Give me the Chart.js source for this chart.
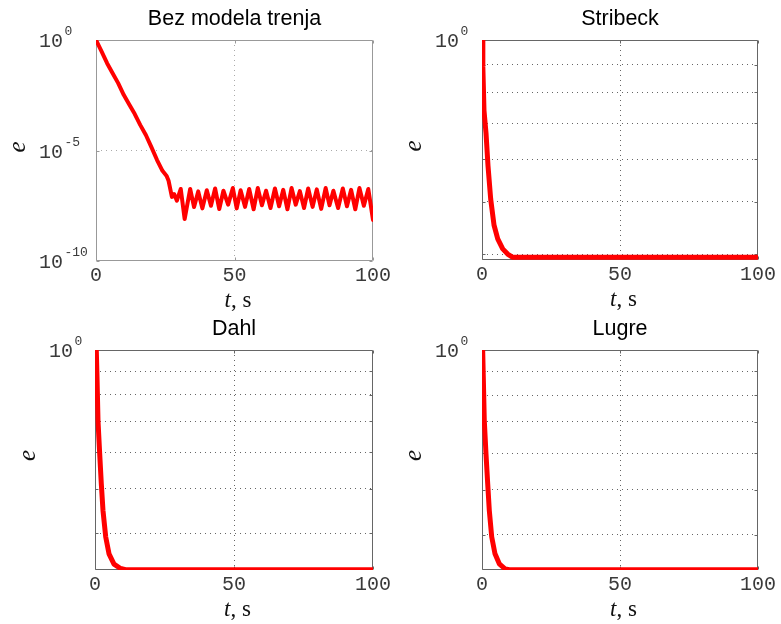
<!DOCTYPE html>
<html><head><meta charset="utf-8">
<script src="https://cdn.jsdelivr.net/npm/chart.js@4/dist/chart.umd.min.js"></script>
<style>
html,body{margin:0;padding:0;background:#fff;}
#wrap{position:relative;width:781px;height:624px;background:#fff;}
canvas{position:absolute;left:0;top:0;}
</style></head><body>
<div id="wrap">
<canvas id="c0" width="781" height="624"></canvas>
<canvas id="c1" width="781" height="624"></canvas>
<canvas id="c2" width="781" height="624"></canvas>
<canvas id="c3" width="781" height="624"></canvas>
</div>
<script>
// ---- data ----
const titles = ['Bez modela trenja', 'Stribeck', 'Dahl', 'Lugre'];
const xTicks = [0, 50, 100];

// Bez modela trenja (t in s, e)
const tlT = [0, 2, 4, 6, 8, 10, 12, 14, 16, 18, 20, 22, 24, 25.5, 26.2, 27.4, 28.2, 29.2,
  30.6, 32.0, 34.0, 35.4, 36.9, 38.4, 40.0, 41.5, 43.0, 44.5, 46.0, 47.7, 49.4, 50.8, 52.2, 53.8,
  55.3, 56.9, 58.4, 59.9, 61.4, 63.0, 64.6, 66.1, 67.6, 69.1, 70.6, 72.1, 73.6, 75.1, 76.6, 78.2,
  79.7, 81.3, 82.9, 84.3, 85.7, 87.4, 89.1, 90.6, 92.1, 93.6, 95.1, 96.7, 98.3, 100];
const tlE = [1, 0.302, 0.0891, 0.0316, 0.0112, 3.31e-3, 1.20e-3, 4.47e-4, 1.41e-4, 5.01e-5, 1.41e-5, 3.80e-6, 1.20e-6, 7.08e-7, 4.27e-7, 7.94e-8, 1.07e-7, 5.37e-8,
  1.82e-7, 7.94e-9, 1.82e-7, 2.75e-8, 1.41e-7, 2.40e-8, 1.58e-7, 3.16e-8, 1.91e-7, 2.24e-8, 1.51e-7, 3.55e-8, 2.00e-7, 2.40e-8, 1.58e-7, 2.82e-8,
  1.82e-7, 2.19e-8, 2.00e-7, 3.31e-8, 1.51e-7, 2.51e-8, 1.91e-7, 3.02e-8, 1.66e-7, 2.19e-8, 2.00e-7, 3.55e-8, 1.45e-7, 2.51e-8, 1.91e-7, 2.82e-8,
  1.74e-7, 2.29e-8, 2.00e-7, 3.31e-8, 1.51e-7, 2.51e-8, 1.91e-7, 3.02e-8, 1.66e-7, 2.19e-8, 2.00e-7, 3.16e-8, 1.82e-7, 7.24e-9];

// Stribeck
const stT = [0, 0.25, 0.36, 0.72, 1.45, 2.17, 3.15, 4.35, 5.7, 7.5, 9.3, 11, 100];
const stE = [1, 0.997, 0.892, 0.740, 0.672, 0.584, 0.506, 0.453, 0.427, 0.409, 0.400, 0.3948, 0.3948];

// Dahl
const dahlT = [0, 0.47, 0.72, 1.08, 1.69, 2.27, 2.88, 3.85, 5.04, 6.83, 9.2, 11, 100];
const dahlE = [1, 0.997, 0.874, 0.702, 0.595, 0.512, 0.448, 0.393, 0.361, 0.343, 0.3355, 0.3336, 0.3336];

// Lugre
const lugreT = [0, 0.25, 0.47, 0.83, 1.45, 2.07, 2.65, 3.52, 4.71, 6.27, 8.44, 10, 100];
const lugreE = [1, 0.997, 0.875, 0.705, 0.597, 0.515, 0.451, 0.396, 0.364, 0.3465, 0.3375, 0.3366, 0.3366];

// y tick values / labels
const tlYTicks = [1e-10, 1e-5, 1];
const tlYExp = ['-10', '-5', '0'];
const rYTicks = [0.4, 0.5, 0.6, 0.7, 0.8, 0.9, 1];
const rYLabelVal = [1];
const rYExp = ['0'];
const yMins = [1e-10, 0.394, 0.333, 0.336];

// ---- drawing ----
const decor = {
  id: 'decor',
  beforeDatasetsDraw(chart, args, o) {
    const ctx = chart.ctx, a = chart.chartArea;
    const xs = chart.scales.x, ys = chart.scales.y;
    ctx.save();
    ctx.strokeStyle = o.boxColor; ctx.lineWidth = 1;
    const L = Math.round(a.left) + 0.5, T = Math.round(a.top) + 0.5;
    const R = Math.round(a.right) - 0.5, B = Math.round(a.bottom) - 0.5;
    ctx.beginPath();
    ctx.moveTo(L, T); ctx.lineTo(R, T); ctx.lineTo(R, B); ctx.lineTo(L, B); ctx.closePath();
    xs.ticks.forEach(t => {
      const px = Math.round(xs.getPixelForValue(t.value)) + 0.5;
      ctx.moveTo(px, B); ctx.lineTo(px, B - 3);
      ctx.moveTo(px, T); ctx.lineTo(px, T + 3);
    });
    ys.ticks.forEach(t => {
      const py = Math.round(ys.getPixelForValue(t.value)) + 0.5;
      ctx.moveTo(L, py); ctx.lineTo(L + 3, py);
      ctx.moveTo(R, py); ctx.lineTo(R - 3, py);
    });
    ctx.stroke();
    ctx.restore();
  },
  afterDraw(chart, args, o) {
    const ctx = chart.ctx, a = chart.chartArea, ys = chart.scales.y;
    ctx.save();
    ctx.fillStyle = '#3a3a3a';
    ctx.textAlign = 'left'; ctx.textBaseline = 'alphabetic';
    o.yLabels.forEach((v, i) => {
      const py = ys.getPixelForValue(v);
      const x0 = a.left + o.labelDx;
      ctx.font = '20px "Liberation Mono"';
      ctx.fillText('10', x0, py + 7.2);
      const w = ctx.measureText('10').width;
      ctx.font = '13px "Liberation Mono"';
      ctx.fillText(o.yExps[i], x0 + w + 1.5, py - 5);
    });
    // x axis title: t, s
    ctx.fillStyle = '#111';
    const fI = 'italic 23px "Liberation Serif"', fR = '23px "Liberation Serif"';
    ctx.font = fI; const w1 = ctx.measureText('t').width;
    ctx.font = fR; const w2 = ctx.measureText(', s').width;
    const cx = (a.left + a.right) / 2 + 3.5 - (w1 + w2) / 2;
    const by = a.bottom + 46;
    ctx.font = fI; ctx.fillText('t', cx, by);
    ctx.font = fR; ctx.fillText(', s', cx + w1, by);
    // y axis title: e
    ctx.translate(a.left - o.eDx, (a.top + a.bottom) / 2 + o.eDy);
    ctx.rotate(-Math.PI / 2);
    ctx.textAlign = 'center';
    ctx.font = 'italic 25px "Liberation Serif"';
    ctx.fillText('e', 0, 5.5);
    ctx.restore();
  }
};

function pts(ts, es) { return ts.map((t, i) => ({ x: t, y: es[i] })); }

const panels = [
  { area: [96, 40, 373, 261], data: pts(tlT, tlE), yTicks: tlYTicks, yLabels: [1e-10, 1e-5, 1], yExps: tlYExp, width: 4, box: '#999', grid: '#aaa', labelDx: -57, eDx: 77, eDy: -3.5 },
  { area: [482, 40, 758, 260], data: pts(stT, stE), yTicks: rYTicks, yLabels: rYLabelVal, yExps: rYExp, width: 5, box: '#666', grid: '#666', labelDx: -47, eDx: 67, eDy: -4 },
  { area: [95, 350, 373, 570], data: pts(dahlT, dahlE), yTicks: rYTicks, yLabels: rYLabelVal, yExps: rYExp, width: 5, box: '#666', grid: '#666', labelDx: -46, eDx: 66, eDy: -4.5 },
  { area: [482, 350, 758, 570], data: pts(lugreT, lugreE), yTicks: rYTicks, yLabels: rYLabelVal, yExps: rYExp, width: 5, box: '#666', grid: '#666', labelDx: -47, eDx: 67, eDy: -4.5 }
];

panels.forEach((p, i) => {
  const [L, T, R, B] = p.area;
  const yMin = yMins[i], yMax = 1;
  new Chart(document.getElementById('c' + i), {
    type: 'line',
    data: { datasets: [{ data: p.data, borderColor: '#ff0000', borderWidth: p.width, pointRadius: 0, tension: 0, fill: false, borderJoinStyle: 'round', borderCapStyle: 'round' }] },
    plugins: [decor],
    options: {
      responsive: false, animation: false, devicePixelRatio: 1, events: [],
      layout: { padding: { left: L - 60, top: T - 40, right: 781 - R, bottom: 624 - B - 40 } },
      plugins: {
        legend: { display: false }, tooltip: { enabled: false },
        title: { display: true, text: titles[i], fullSize: false, color: '#000',
          font: { family: 'Liberation Sans', size: 21.5, weight: 'normal', lineHeight: 1.2 },
          padding: { top: 6.6, bottom: 7.6 } },
        decor: { boxColor: p.box, yLabels: p.yLabels, yExps: p.yExps, labelDx: p.labelDx, eDx: p.eDx, eDy: p.eDy }
      },
      scales: {
        x: {
          type: 'linear', min: 0, max: 100,
          afterBuildTicks: s => { s.ticks = xTicks.map(v => ({ value: v })); },
          afterFit: s => { s.height = 40; s.paddingLeft = 0; s.paddingRight = 0; s.paddingTop = 0; s.paddingBottom = 0; },
          ticks: { display: true, font: { family: 'Liberation Mono', size: 20 }, color: '#3a3a3a', padding: 3, maxRotation: 0, autoSkip: false, callback: v => String(v) },
          grid: { drawTicks: false, lineWidth: 1, color: c => (c.tick && (c.tick.value === 0 || c.tick.value === 100)) ? 'rgba(0,0,0,0)' : p.grid },
          border: { display: false, dash: [1, 4] }
        },
        y: {
          type: 'logarithmic', min: yMin, max: yMax,
          afterBuildTicks: s => { s.ticks = p.yTicks.map(v => ({ value: v })); },
          afterFit: s => { s.width = 60; s.paddingLeft = 0; s.paddingRight = 0; s.paddingTop = 0; s.paddingBottom = 0; },
          ticks: { display: false },
          grid: { drawTicks: false, lineWidth: 1, color: c => (c.tick && (c.tick.value === yMin || c.tick.value === yMax)) ? 'rgba(0,0,0,0)' : p.grid },
          border: { display: false, dash: [1, 4] }
        }
      }
    }
  });
});
</script>
</body></html>
